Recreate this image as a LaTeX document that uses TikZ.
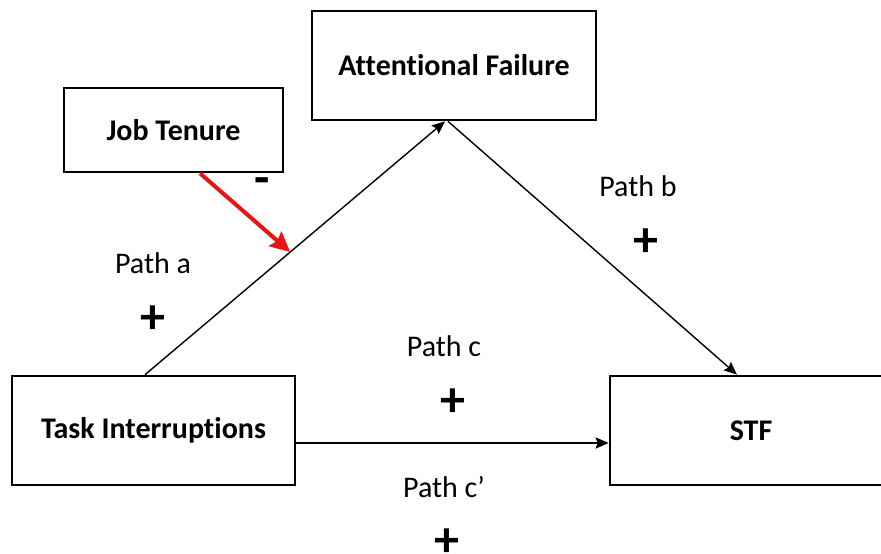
\documentclass[tikz,border=0pt]{standalone}
\usepackage{fontspec}
\setmainfont{Carlito}[Ligatures=NoCommon]
\usetikzlibrary{arrows.meta,calc}
\tikzset{
  boxnode/.style={draw=black, line width=2.6pt, rectangle, align=center, font=\fontsize{30}{34}\selectfont\bfseries, inner sep=0pt},
  lbl/.style={font=\fontsize{30}{34}\selectfont, inner sep=0pt},
  sgn/.style={font=\fontsize{50}{56}\selectfont\bfseries, inner sep=0pt},
  conn/.style={draw=black, line width=1.4pt, -{Stealth[length=13pt,width=11pt,inset=2pt]}},
  redconn/.style={draw={rgb,255:red,235;green,20;blue,20}, line width=4pt, -{Stealth[length=20pt,width=19pt,inset=3pt]}}
}
\begin{document}
\begin{tikzpicture}[x=1pt,y=-1pt]
\useasboundingbox (0,0) rectangle (881,554);
\node[boxnode, minimum width=284pt, minimum height=109pt] (AF) at (454,65.5) {Attentional Failure};
\node[boxnode, minimum width=219pt, minimum height=84pt] (JT) at (173.5,130) {Job Tenure};
\node[boxnode, minimum width=283pt, minimum height=109pt] (TI) at (153.5,430.5) {Task Interruptions};
\node[boxnode, minimum width=282pt, minimum height=109pt] (STF) at (751,430.5) {STF};

\coordinate (aS) at ([xshift=-8.5pt]TI.north);
\coordinate (aE) at ([xshift=-9pt]AF.south);
\coordinate (bS) at ([xshift=-6pt]AF.south);
\coordinate (bE) at ([xshift=-14pt]STF.north);
\path (aS) -- (aE) coordinate[pos=0.484] (mod);

\draw[conn] (aS) -- (aE);
\draw[conn] (bS) -- (bE);
\draw[conn, line width=2.2pt] ([yshift=-12.5pt]TI.east) -- ([yshift=-12.5pt]STF.west);
\draw[redconn] ([xshift=26.5pt]JT.south) -- (mod);

\node[sgn] (minus) at (262,186) {-};
\node[lbl] (pa) at (153,263) {Path a};
\node[sgn] (pap) at (153,320) {+};
\node[lbl] (pb) at (638,186) {Path b};
\node[sgn] (pbp) at (646,243) {+};
\node[lbl] (pc) at (444,346) {Path c};
\node[sgn] (pcp) at (453,403) {+};
\node[lbl] (pcc) at (444,487) {Path c’};
\node[sgn] (pccp) at (447,543) {+};
\end{tikzpicture}
\end{document}
